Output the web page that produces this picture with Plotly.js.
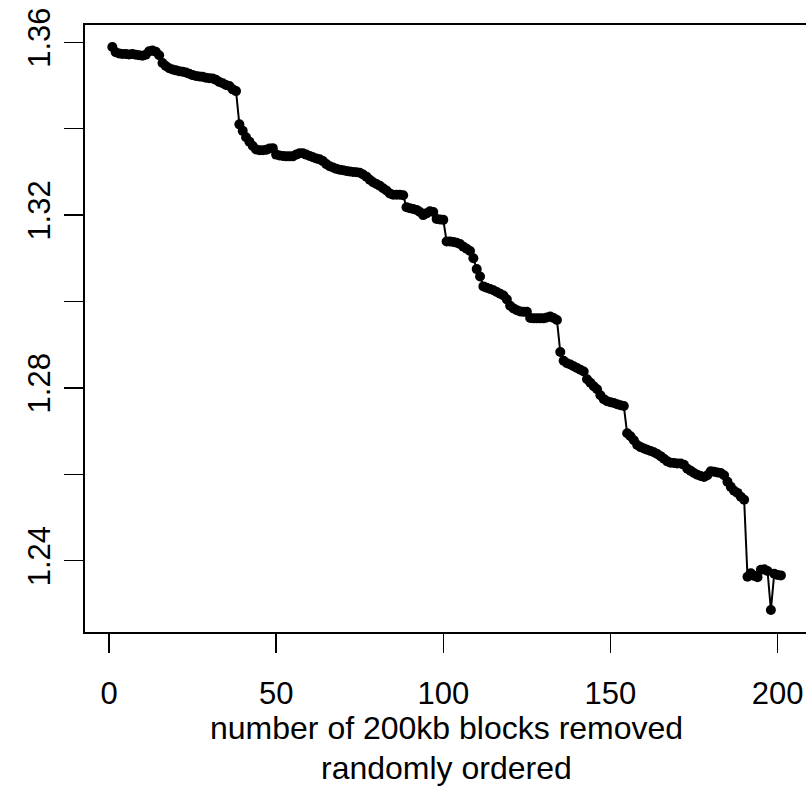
<!DOCTYPE html>
<html>
<head>
<meta charset="utf-8">
<script src="https://cdn.plot.ly/plotly-3.0.1.min.js"></script>
<style>
html, body { margin: 0; padding: 0; overflow: hidden; background: #fff; }
#chart { width: 808px; height: 786px; }
</style>
</head>
<body>
<div id="chart"></div>
<script>
// values, index 1..201
const yValues = [
  1.3589, 1.3577, 1.3574, 1.3573, 1.3573, 1.3572, 1.3573, 1.3571, 1.3570, 1.3569,
  1.3571, 1.3579, 1.3581, 1.3578, 1.3570, 1.3552, 1.3545, 1.3540, 1.3537, 1.3535,
  1.3533, 1.3532, 1.3530, 1.3527, 1.3524, 1.3522, 1.3521, 1.3520, 1.3518, 1.3517,
  1.3516, 1.3513, 1.3508, 1.3505, 1.3501, 1.3499, 1.3491, 1.3487, 1.3410, 1.3395,
  1.3380, 1.3370, 1.3360, 1.3352, 1.3350, 1.3350, 1.3351, 1.3354, 1.3355, 1.3340,
  1.3338, 1.3337, 1.3336, 1.3336, 1.3336, 1.3340, 1.3343, 1.3343, 1.3340, 1.3337,
  1.3334, 1.3331, 1.3329, 1.3325, 1.3318, 1.3313, 1.3310, 1.3307, 1.3305, 1.3304,
  1.3302, 1.3301, 1.3300, 1.3299, 1.3298, 1.3294, 1.3289, 1.3282, 1.3276, 1.3272,
  1.3268, 1.3262, 1.3257, 1.3250, 1.3247, 1.3247, 1.3247, 1.3246, 1.3218, 1.3216,
  1.3214, 1.3212, 1.3207, 1.3200, 1.3204, 1.3209, 1.3207, 1.3191, 1.3190, 1.3189,
  1.3139, 1.3139, 1.3138, 1.3136, 1.3133, 1.3127, 1.3122, 1.3117, 1.3100, 1.3075,
  1.3058, 1.3035, 1.3032, 1.3029, 1.3026, 1.3022, 1.3018, 1.3014, 1.3005, 1.2990,
  1.2984, 1.2980, 1.2977, 1.2976, 1.2976, 1.2962, 1.2961, 1.2961, 1.2961, 1.2961,
  1.2963, 1.2965, 1.2962, 1.2957, 1.2883, 1.2863, 1.2857, 1.2854, 1.2850, 1.2846,
  1.2842, 1.2838, 1.2820, 1.2812, 1.2804, 1.2797, 1.2783, 1.2774, 1.2769, 1.2767,
  1.2765, 1.2762, 1.2760, 1.2758, 1.2695, 1.2688, 1.2679, 1.2668, 1.2663, 1.2660,
  1.2657, 1.2654, 1.2651, 1.2647, 1.2642, 1.2636, 1.2630, 1.2627, 1.2626, 1.2625,
  1.2625, 1.2622, 1.2613, 1.2608, 1.2603, 1.2599, 1.2596, 1.2594, 1.2598, 1.2607,
  1.2606, 1.2604, 1.2603, 1.2598, 1.2583, 1.2571, 1.2562, 1.2557, 1.2548, 1.2541,
  1.2363, 1.2371, 1.2365, 1.2362, 1.2379, 1.2380, 1.2376, 1.2286, 1.2370, 1.2367,
  1.2366
];
const xValues = yValues.map((_, i) => i + 1);

const xTickVals = [0, 50, 100, 150, 200];
const xTickText = ["0", "50", "100", "150", "200"];
const yTickVals = [1.24, 1.26, 1.28, 1.30, 1.32, 1.34, 1.36];
const yTickText = ["1.24", "", "1.28", "", "1.32", "", "1.36"];
const xTitleLines = ["number of 200kb blocks removed", "randomly ordered"];

const font = { family: "Liberation Sans, Arial, Helvetica, sans-serif", size: 31, color: "#000" };
const titleFont = { family: "Liberation Sans, Arial, Helvetica, sans-serif", size: 32, color: "#000" };

const trace = {
  x: xValues,
  y: yValues,
  type: "scatter",
  mode: "lines+markers",
  line: { color: "#000", width: 2 },
  marker: { color: "#000", size: 10 },
  hoverinfo: "none"
};

const layout = {
  width: 808,
  height: 786,
  margin: { l: 85, r: 0, t: 25, b: 154, pad: 0 },
  paper_bgcolor: "#fff",
  plot_bgcolor: "#fff",
  font: font,
  showlegend: false,
  xaxis: {
    range: [-7.18, 209.1],
    tickmode: "array",
    tickvals: xTickVals,
    ticktext: xTickText,
    ticks: "outside",
    ticklen: 19,
    tickwidth: 1.5,
    tickcolor: "#000",
    showgrid: false,
    zeroline: false,
    showline: true,
    linecolor: "#000",
    linewidth: 1.7,
    mirror: true,
    tickfont: font,
    ticklabelstandoff: 14
  },
  yaxis: {
    range: [1.2235, 1.3640],
    tickmode: "array",
    tickvals: yTickVals,
    ticktext: yTickText,
    ticks: "outside",
    ticklen: 19,
    tickwidth: 1.5,
    tickcolor: "#000",
    tickangle: -90,
    showgrid: false,
    zeroline: false,
    showline: true,
    linecolor: "#000",
    linewidth: 1.7,
    mirror: true,
    tickfont: font,
    ticklabelstandoff: 2
  },
  annotations: xTitleLines.map((t, i) => ({
    text: t,
    xref: "paper",
    yref: "paper",
    x: 0.5,
    y: 0,
    xanchor: "center",
    yanchor: "middle",
    yshift: -96 - i * 40,
    showarrow: false,
    font: titleFont
  }))
};

Plotly.newPlot("chart", [trace], layout, { staticPlot: true, displayModeBar: false });
</script>
</body>
</html>
